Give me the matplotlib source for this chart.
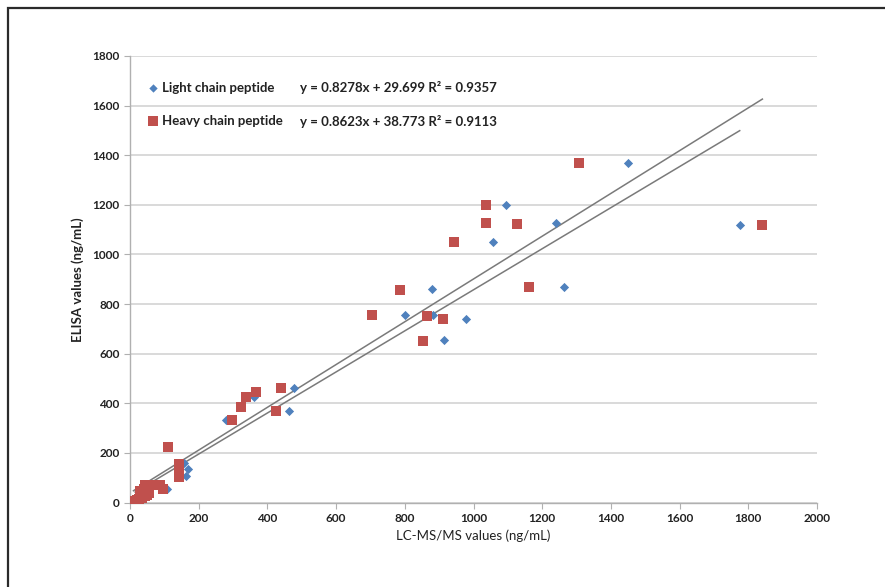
import matplotlib
matplotlib.use("Agg")
import matplotlib.pyplot as plt
from matplotlib.patches import Rectangle
import numpy as np

# Light chain peptide (LC-MS/MS, ELISA)
light_x = [1450, 1775, 1095, 1240, 1058, 1263, 879, 802, 881, 978, 913,
           476, 463, 362, 279, 158, 168, 162, 108, 80, 60, 40, 30, 25, 20, 15, 45, 50, 35]
light_y = [1370, 1120, 1200, 1125, 1050, 870, 860, 755, 755, 740, 655,
           463, 368, 427, 332, 160, 134, 105, 56, 70, 65, 50, 45, 35, 20, 10, 30, 45, 15]

# Heavy chain peptide
heavy_x = [1307, 1841, 1127, 1162, 1036, 1036, 943, 787, 705, 866, 912, 853,
           439, 425, 366, 338, 322, 297, 112, 144, 144, 144, 144, 88, 95,
           60, 55, 50, 45, 40, 30, 28, 25, 20, 15, 10, 35, 50, 45]
heavy_y = [1367, 1118, 1124, 870, 1199, 1128, 1050, 858, 755, 750, 738, 653,
           462, 368, 447, 425, 384, 332, 225, 154, 140, 128, 104, 70, 55,
           70, 40, 30, 25, 55, 45, 30, 15, 10, 5, 2, 20, 60, 70]

light_fit = (0.8278, 29.699)
heavy_fit = (0.8623, 38.773)
series_names = ["Light chain peptide", "Heavy chain peptide"]
equations = ["y = 0.8278x + 29.699 R² = 0.9357", "y = 0.8623x + 38.773 R² = 0.9113"]

x_ticks = list(range(0, 2001, 200))
y_ticks = list(range(0, 1801, 200))

FONT = "Lato"
blue = "#4F81BD"
red = "#C0504D"

fig = plt.figure(figsize=(8.85, 5.87), dpi=100)
fig.patch.set_facecolor("white")
fig.patches.append(Rectangle((8/885, -0.1), 1.2, 1 - 8/587 + 0.1, transform=fig.transFigure,
                             fill=False, edgecolor="#2b2b2b", linewidth=1.6))

ax = fig.add_axes([130/885, 1 - 502.5/587, 687/885, 446.5/587])
ax.set_xlim(0, 2000)
ax.set_ylim(0, 1800)
ax.set_xticks(x_ticks)
ax.set_yticks(y_ticks)
ax.yaxis.grid(True, color="#d0d0d0", linewidth=1.1)
ax.set_axisbelow(True)
for s in ["top", "right"]:
    ax.spines[s].set_visible(False)
for s in ["left", "bottom"]:
    ax.spines[s].set_color("#b0b0b0")
    ax.spines[s].set_linewidth(1.0)
ax.tick_params(axis="both", colors="#b0b0b0", length=4, width=0.8,
               labelcolor="#222222", labelsize=8.5)
for lab in ax.get_xticklabels() + ax.get_yticklabels():
    lab.set_fontfamily(FONT)
    lab.set_fontweight("bold")

ax.scatter(light_x, light_y, marker="D", s=22, color=blue, zorder=3, linewidths=0)
ax.scatter(heavy_x, heavy_y, marker="s", s=42, color=red, zorder=3, linewidths=0)

for xs, (m, b) in [(light_x, light_fit), (heavy_x, heavy_fit)]:
    xx = np.array([min(xs), max(xs)])
    ax.plot(xx, m * xx + b, color="#7a7a7a", linewidth=1.1, zorder=2)

ax.set_xlabel("LC-MS/MS values (ng/mL)", fontfamily=FONT, fontsize=9.5, color="#222222", labelpad=4)
ax.set_ylabel("ELISA values (ng/mL)", fontfamily=FONT, fontsize=9.5, fontweight="bold",
              color="#222222", labelpad=6)

# legend drawn manually
rows_y = [(502.5 - 88) / 446.5, (502.5 - 121) / 446.5]
mk_x = (153 - 130) / 687
name_x = (162 - 130) / 687
eq_x = (300 - 130) / 687
ax.scatter([mk_x], [rows_y[0]], marker="D", s=18, color=blue, transform=ax.transAxes,
           linewidths=0, clip_on=False, zorder=4)
ax.scatter([mk_x], [rows_y[1]], marker="s", s=42, color=red, transform=ax.transAxes,
           linewidths=0, clip_on=False, zorder=4)
for ry, nm, eq in zip(rows_y, series_names, equations):
    ax.text(name_x, ry, nm, transform=ax.transAxes, fontfamily=FONT, fontweight="bold",
            fontsize=9.5, va="center", color="#222222")
    ax.text(eq_x, ry, eq, transform=ax.transAxes, fontfamily=FONT, fontweight="bold",
            fontsize=9.5, va="center", color="#222222")

fig.savefig("out.png", dpi=100)
